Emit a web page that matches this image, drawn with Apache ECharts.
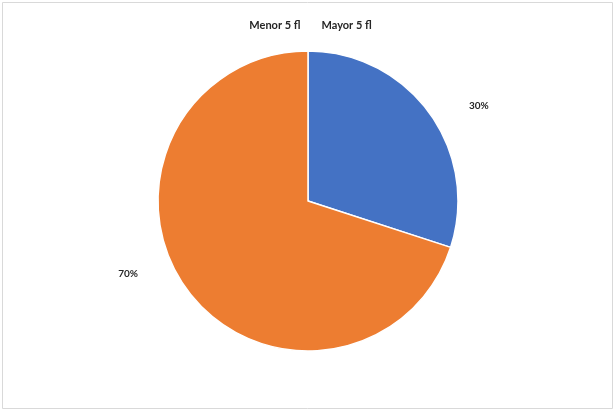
<!DOCTYPE html>
<html>
<head>
<meta charset="utf-8">
<script src="https://cdn.jsdelivr.net/npm/echarts@6/dist/echarts.min.js"></script>
<style>
  html, body { margin: 0; padding: 0; background: #fff; }
  #main { width: 616px; height: 412px; }
</style>
</head>
<body>
<div id="main"></div>
<script>
// categorias y valores
var categories = ['Menor 5 fl', 'Mayor 5 fl'];
var values = [30, 70];
var colors = ['#4472C4', '#ED7D31'];

var pieData = [];
for (var i = 0; i < categories.length; i++) {
  pieData.push({ name: categories[i], value: values[i], itemStyle: { color: colors[i] } });
}

// ajuste de etiquetas como en Excel
var labelShift = [[6, 9], [-15, -32]];

var myChart = echarts.init(document.getElementById('main'));

var option = {
  backgroundColor: '#fff',
  animation: false,
  graphic: [{
    type: 'rect',
    shape: { x: 2.5, y: 2.5, width: 610, height: 406 },
    style: { fill: 'none', stroke: '#d9d9d9', lineWidth: 1 }
  }],
  legend: {
    data: categories,
    top: 13,
    left: 'center',
    icon: 'none',
    itemWidth: 0,
    itemGap: 16,
    textStyle: { fontFamily: 'Lato', fontSize: 11, fontWeight: 'bold', color: '#262626' }
  },
  series: [{
    type: 'pie',
    center: [308, 201],
    radius: 150,
    startAngle: 90,
    clockwise: true,
    data: pieData,
    itemStyle: { borderColor: '#fff', borderWidth: 1.5 },
    label: {
      show: true,
      position: 'outside',
      formatter: function (p) { return p.percent + '%'; },
      fontFamily: 'Lato',
      fontSize: 10,
      fontWeight: 'bold',
      color: '#262626'
    },
    labelLine: { show: false, length: 28, length2: 6 },
    labelLayout: function (p) {
      var s = labelShift[p.dataIndex];
      return { dx: s[0], dy: s[1] };
    },
    emphasis: { disabled: true }
  }]
};

myChart.setOption(option, true);
</script>
</body>
</html>
